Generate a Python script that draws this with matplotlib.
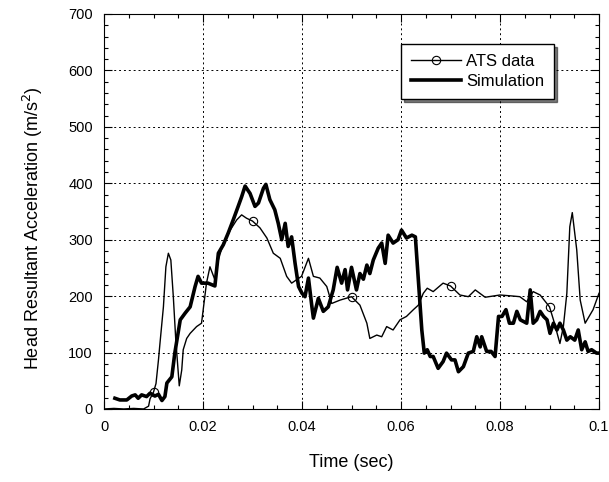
import numpy as np
import matplotlib.pyplot as plt

plt.rcParams['font.family'] = ['Liberation Sans', 'DejaVu Sans']

# --- ATS data (thin line) ---
ats_t = [0, 0.002, 0.004, 0.006, 0.008, 0.009, 0.0093, 0.01, 0.0105, 0.011,
         0.0113, 0.012, 0.0125, 0.013, 0.0135, 0.014, 0.0145, 0.0152, 0.0157, 0.016,
         0.0167, 0.0174, 0.0187, 0.0197, 0.0207, 0.0214, 0.0224, 0.0231, 0.0241, 0.0255,
         0.0268, 0.0278, 0.0288, 0.03, 0.0315, 0.0329, 0.0342, 0.0356, 0.0369, 0.0379,
         0.0389, 0.0399, 0.0413, 0.0423, 0.0436, 0.045, 0.046, 0.0477, 0.05, 0.0517,
         0.0531, 0.0537, 0.0551, 0.0561, 0.0571, 0.0584, 0.0598, 0.0611, 0.0625, 0.0635,
         0.0645, 0.0653, 0.0665, 0.0685, 0.07, 0.0719, 0.0736, 0.075, 0.077, 0.08,
         0.0828, 0.084, 0.0854, 0.0867, 0.0881, 0.09, 0.0908, 0.0921, 0.0928, 0.0935,
         0.0941, 0.0946, 0.0955, 0.0962, 0.0972, 0.0988, 0.1]
ats_y = [0, 1, 0, 1, 0, 5, 18, 30, 45, 87,
         116, 181, 252, 276, 264, 199, 122, 41, 69, 105,
         125, 134, 146, 152, 223, 252, 229, 264, 294, 317,
         335, 344, 338, 333, 321, 303, 276, 267, 235, 223,
         229, 235, 267, 235, 232, 217, 187, 193, 199, 184,
         152, 125, 131, 128, 146, 140, 158, 164, 176, 184,
         205, 214, 208, 223, 218, 202, 199, 211, 198, 202,
         200, 199, 190, 208, 202, 181, 158, 116, 146, 205,
         323, 348, 282, 193, 152, 176, 205]
marker_times = [0.01, 0.03, 0.05, 0.07, 0.09]

# --- Simulation (thick line) ---
sim_t = [0.0022, 0.0032, 0.0046, 0.0056, 0.0063, 0.0069, 0.0076, 0.0086, 0.0093, 0.0103,
         0.011, 0.0117, 0.0123, 0.0127, 0.0137, 0.0143, 0.0154, 0.0164, 0.0174, 0.0184,
         0.019, 0.0197, 0.021, 0.0224, 0.0231, 0.0241, 0.0251, 0.0261, 0.0271, 0.0278,
         0.0285, 0.0295, 0.0305, 0.0312, 0.0322, 0.0327, 0.0335, 0.0345, 0.0352, 0.0359,
         0.0366, 0.0372, 0.0379, 0.0386, 0.0393, 0.04, 0.0406, 0.0413, 0.042, 0.0423,
         0.0433, 0.0443, 0.0453, 0.0463, 0.0471, 0.048, 0.0487, 0.0492, 0.05, 0.051,
         0.0517, 0.0524, 0.0531, 0.0537, 0.0544, 0.0554, 0.0561, 0.0568, 0.0574, 0.0584,
         0.0594, 0.0601, 0.0611, 0.0622, 0.0629, 0.0635, 0.0642, 0.0647, 0.0653, 0.0659,
         0.0665, 0.0675, 0.0685, 0.0692, 0.0702, 0.0709, 0.0716, 0.0726, 0.0736, 0.0746,
         0.0753, 0.076, 0.0763, 0.0773, 0.0782, 0.079, 0.0797, 0.0804, 0.0812, 0.0819,
         0.0827, 0.0834, 0.0841, 0.0854, 0.0861, 0.0867, 0.0874, 0.0881, 0.0888, 0.0895,
         0.0901, 0.0908, 0.0915, 0.0921, 0.0928, 0.0935, 0.0942, 0.0951, 0.0958, 0.0965,
         0.0972, 0.0978, 0.0985, 0.0995, 0.1]
sim_y = [19, 16, 16, 23, 25, 19, 25, 22, 28, 23,
         26, 15, 22, 46, 57, 99, 158, 170, 181, 217,
         235, 223, 223, 218, 276, 291, 312, 335, 359, 376,
         395, 382, 359, 365, 391, 398, 371, 353, 329, 300,
         329, 288, 305, 258, 217, 205, 199, 232, 181, 161,
         196, 173, 181, 211, 251, 223, 247, 211, 251, 211,
         240, 230, 255, 240, 264, 285, 294, 258, 308, 294,
         300, 317, 303, 308, 305, 229, 140, 99, 105, 93,
         93, 72, 84, 99, 87, 87, 66, 75, 99, 102,
         128, 110, 128, 102, 102, 93, 164, 164, 176, 152,
         152, 173, 158, 152, 211, 152, 158, 173, 164, 158,
         134, 152, 140, 152, 140, 122, 128, 122, 140, 105,
         119, 102, 105, 99, 99]

# --- 画图 ---
fig = plt.figure(figsize=(6.09, 4.82), dpi=100)
ax = fig.add_axes([0.1708, 0.1515, 0.8128, 0.8195])

ats_t = np.array(ats_t)
mark_idx = [int(np.argmin(np.abs(ats_t - m))) for m in marker_times]
ax.plot(ats_t, ats_y, color='black', linewidth=1.0, marker='o', markersize=6,
        markerfacecolor='none', markeredgewidth=0.8, markevery=mark_idx, label='ATS data')
ax.plot(sim_t, sim_y, color='black', linewidth=2.6, label='Simulation')

ax.set_xlim(0, 0.1)
ax.set_ylim(0, 700)
ax.set_xticks([0, 0.02, 0.04, 0.06, 0.08, 0.1])
ax.set_xticklabels(['0', '0.02', '0.04', '0.06', '0.08', '0.1'])
ax.set_yticks(range(0, 701, 100))
ax.set_xticks(np.arange(0, 0.1001, 0.005), minor=True)
ax.set_yticks(range(0, 701, 20), minor=True)
ax.tick_params(which='both', direction='in', top=True, right=True, labelsize=10.5, pad=8)
ax.tick_params(which='major', length=6, width=0.8)
ax.tick_params(which='minor', length=3, width=0.8)
ax.grid(True, which='major', color='black', linestyle=(0, (2, 3)), linewidth=0.7)

ax.set_xlabel('Time (sec)', fontsize=13, labelpad=14)
ax.set_ylabel('Head Resultant Acceleration (m/s$^2$)', fontsize=13, labelpad=17, y=0.458)

leg = ax.legend(loc='upper right', bbox_to_anchor=(0.909, 0.924), fontsize=12,
                frameon=True, fancybox=False,
                shadow={'ox': 2.2, 'oy': -2.2, 'facecolor': 'black', 'edgecolor': 'black'},
                edgecolor='black', framealpha=1, handlelength=3.0, handletextpad=0.3,
                borderpad=0.6, labelspacing=0.3, borderaxespad=0)
leg.get_frame().set_linewidth(1.0)

plt.savefig('out.png', dpi=100)
